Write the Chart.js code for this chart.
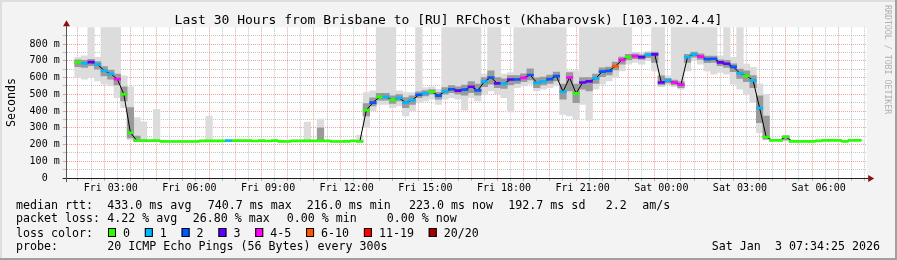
<!DOCTYPE html>
<html>
<head>
<meta charset="utf-8">
<script src="https://cdn.jsdelivr.net/npm/chart.js@4.4.1/dist/chart.umd.min.js"></script>
<style>
  html, body { margin: 0; padding: 0; background: #f3f3f3; }
  canvas { display: block; }
</style>
</head>
<body>
<canvas id="chart" width="897" height="260"></canvas>
<script>
// samples every 15 minutes, hours counted from Fri 00:00 (first one 01:45)
const firstSample = 1.75;
const sampleStep = 0.25;

// median rtt in ms
const median = [
  690, 684, 692, 678, 640, 622, 590, 500,
  270, 223, 223, 223, 223, 219, 218, 218,
  218, 218, 218, 222, 222, 222, 222, 223,
  223, 223, 223, 221, 223, 221, 223, 219,
  218, 222, 222, 222, 222, 222, 222, 218,
  218, 219, 222, 218, 405, 450, 484, 484,
  466, 478, 450, 465, 497, 505, 515, 492,
  517, 530, 522, 528, 545, 523, 575, 600,
  565, 563, 588, 588, 598, 615, 568, 577,
  590, 608, 515, 600, 505, 570, 577, 595,
  635, 640, 668, 705, 722, 728, 722, 735,
  738, 570, 583, 570, 557, 722, 738, 725,
  710, 712, 690, 682, 663, 625, 610, 583,
  418, 245, 225, 225, 245, 219, 219, 219,
  219, 222, 225, 225, 225, 219, 225, 225
];

// index into lossLabels / lossColors
const loss = [
  0, 1, 3, 1, 1, 1, 4, 0,
  0, 0, 0, 0, 0, 0, 0, 0,
  0, 0, 0, 0, 0, 0, 0, 1,
  0, 0, 0, 0, 0, 0, 0, 0,
  0, 0, 0, 0, 0, 0, 0, 0,
  0, 0, 0, 0, 0, 2, 0, 1,
  0, 1, 1, 1, 2, 1, 0, 2,
  1, 2, 3, 2, 3, 2, 1, 2,
  3, 1, 3, 2, 4, 2, 1, 1,
  2, 2, 1, 4, 0, 3, 3, 1,
  2, 2, 5, 4, 0, 4, 3, 1,
  3, 3, 1, 4, 4, 1, 1, 4,
  2, 2, 3, 3, 2, 1, 0, 1,
  1, 0, 0, 0, 0, 0, 0, 0,
  0, 0, 0, 0, 0, 0, 0, 0
];

// smoke: full spread of the 20 pings (900 = off the top)
const smokeLo = [
  600, 590, 600, 580, 560, 550, 480, 420,
  228, 218, 218, 219, 219, 216, 215, 215,
  215, 215, 215, 219, 219, 219, 219, 220,
  220, 220, 220, 218, 220, 218, 220, 216,
  215, 219, 219, 219, 219, 219, 219, 215,
  215, 216, 219, 215, 300, 400, 440, 440,
  420, 430, 370, 400, 450, 460, 470, 440,
  470, 480, 470, 405, 480, 460, 500, 520,
  500, 480, 395, 540, 550, 560, 520, 530,
  540, 550, 380, 370, 350, 440, 345, 530,
  560, 580, 600, 640, 680, 690, 680, 700,
  640, 545, 555, 545, 530, 640, 700, 680,
  640, 620, 630, 620, 560, 530, 500, 450,
  270, 228, 222, 222, 222, 216, 216, 216,
  216, 219, 222, 222, 222, 216, 222, 222
];
const smokeHi = [
  720, 730, 900, 720, 900, 900, 900, 610,
  545, 360, 336, 226, 410, 222, 221, 221,
  221, 221, 221, 225, 368, 225, 225, 226,
  226, 226, 226, 224, 226, 224, 226, 222,
  221, 225, 225, 334, 225, 352, 225, 221,
  221, 222, 225, 255, 510, 520, 900, 900,
  900, 520, 510, 510, 900, 540, 545, 530,
  900, 900, 900, 900, 900, 900, 620, 900,
  900, 620, 630, 900, 900, 900, 900, 900,
  900, 900, 900, 640, 640, 900, 900, 900,
  900, 900, 900, 900, 900, 750, 745, 755,
  900, 900, 610, 900, 900, 900, 900, 900,
  900, 900, 730, 900, 720, 900, 680, 660,
  560, 500, 228, 228, 255, 222, 222, 222,
  222, 225, 228, 228, 228, 222, 228, 228
];
// dense middle of the smoke
const coreLo = [
  665, 660, 670, 650, 610, 590, 555, 460,
  240, 220, 220, 221, 221, 218, 217, 217,
  217, 217, 217, 221, 221, 221, 221, 222,
  222, 222, 222, 220, 222, 220, 222, 218,
  217, 221, 221, 221, 221, 221, 221, 217,
  217, 218, 221, 217, 370, 430, 465, 465,
  445, 460, 420, 440, 480, 490, 500, 470,
  500, 510, 500, 495, 510, 495, 545, 560,
  540, 535, 555, 565, 575, 585, 540, 555,
  565, 580, 470, 520, 450, 530, 520, 565,
  605, 615, 645, 680, 705, 712, 708, 718,
  690, 555, 568, 555, 540, 690, 722, 708,
  688, 690, 670, 660, 635, 595, 575, 540,
  330, 232, 224, 224, 228, 218, 218, 218,
  218, 221, 224, 224, 224, 218, 224, 224
];
const coreHi = [
  705, 702, 708, 695, 665, 645, 620, 545,
  420, 250, 226, 225, 225, 221, 220, 220,
  220, 220, 220, 224, 224, 224, 224, 225,
  225, 225, 225, 223, 225, 223, 225, 221,
  220, 224, 224, 224, 224, 300, 224, 220,
  220, 221, 224, 221, 445, 478, 505, 505,
  490, 498, 480, 490, 515, 522, 528, 512,
  540, 552, 545, 555, 575, 560, 600, 640,
  600, 592, 612, 612, 622, 652, 598, 602,
  615, 632, 560, 630, 560, 600, 600, 620,
  658, 662, 692, 722, 738, 742, 736, 748,
  752, 610, 595, 585, 575, 738, 752, 742,
  728, 728, 706, 702, 682, 650, 640, 612,
  490, 370, 226, 226, 252, 220, 220, 220,
  220, 223, 226, 226, 226, 220, 226, 226
];

const lossLabels = ['0', '1', '2', '3', '4-5', '6-10', '11-19', '20/20'];
const lossColors = ['#26ff00', '#00b8ff', '#0059ff', '#5e00ff', '#ff00ff', '#ff5500', '#ff0000', '#a00000'];

const labelHours = [3, 6, 9, 12, 15, 18, 21, 24, 27, 30];
const timeLabels = ['Fri 03:00', 'Fri 06:00', 'Fri 09:00', 'Fri 12:00', 'Fri 15:00',
                    'Fri 18:00', 'Fri 21:00', 'Sat 00:00', 'Sat 03:00', 'Sat 06:00'];
const yTickLabels = ['0  ', '100 m', '200 m', '300 m', '400 m', '500 m', '600 m', '700 m', '800 m'];

const title = 'Last 30 Hours from Brisbane to [RU] RFChost (Khabarovsk) [103.102.4.4]';
const legendRows = [
  { y: 208.5, items: [['median rtt:', 16], ['433.0 ms avg', 107.3], ['740.7 ms max', 207.7],
      ['216.0 ms min', 306.7], ['223.0 ms now', 409], ['192.7 ms sd', 508.3], ['2.2', 605.7], ['am/s', 642.3]] },
  { y: 222.3, items: [['packet loss:', 16], ['4.22 % avg', 107.3], ['26.80 % max', 192.7],
      ['0.00 % min', 286.7], ['0.00 % now', 386.7]] },
  { y: 236.5, items: [['loss color:', 16]] },
  { y: 250, items: [['probe:', 16], ['20 ICMP Echo Pings (56 Bytes) every 300s', 107.3]] }
];
const stamp = 'Sat Jan  3 07:34:25 2026';

const mono = '"DejaVu Sans Mono", monospace';
const majorGrid = 'rgba(235, 85, 85, 0.55)';
const minorGrid = 'rgba(140, 140, 140, 0.5)';
const markHalf = 6;

const hours = median.map((_, i) => firstSample + i * sampleStep);

const rrdFrame = {
  id: 'rrdFrame',
  beforeDraw(chart) {
    const { ctx, width, height, chartArea: a } = chart;
    ctx.save();
    ctx.fillStyle = '#f3f3f3';
    ctx.fillRect(0, 0, width, height);
    ctx.fillStyle = '#dedede';
    ctx.fillRect(0, 0, width, 2);
    ctx.fillRect(0, 0, 2, height);
    ctx.fillStyle = '#a0a0a0';
    ctx.fillRect(0, height - 2, width, 2);
    ctx.fillRect(width - 2, 0, 2, height);
    ctx.fillStyle = '#ffffff';
    ctx.fillRect(a.left, a.top, a.right - a.left, a.bottom - a.top);
    ctx.restore();
  },
  afterDraw(chart) {
    const { ctx, width, chartArea: a } = chart;
    ctx.save();

    // axes with arrows
    const ax = Math.floor(a.left) + 0.5;
    const ay = Math.round(a.bottom) + 0.5;
    ctx.lineWidth = 1;
    ctx.strokeStyle = '#202020';
    ctx.beginPath();
    ctx.moveTo(a.left - 4, ay);
    ctx.lineTo(a.right + 2, ay);
    ctx.stroke();
    ctx.strokeStyle = '#555';
    ctx.beginPath();
    ctx.moveTo(ax, a.bottom + 4);
    ctx.lineTo(ax, a.top - 2);
    ctx.stroke();
    ctx.fillStyle = '#8b1010';
    ctx.beginPath();
    ctx.moveTo(a.right + 1.5, ay - 3.5);
    ctx.lineTo(a.right + 7.5, ay);
    ctx.lineTo(a.right + 1.5, ay + 3.5);
    ctx.fill();
    ctx.beginPath();
    ctx.moveTo(ax - 3.5, a.top - 1);
    ctx.lineTo(ax, a.top - 7);
    ctx.lineTo(ax + 3.5, a.top - 1);
    ctx.fill();

    // title
    ctx.fillStyle = '#000';
    ctx.font = '13px ' + mono;
    ctx.textAlign = 'center';
    ctx.textBaseline = 'alphabetic';
    ctx.fillText(title, width / 2, 24);

    // vertical axis title
    ctx.font = '11.65px ' + mono;
    ctx.save();
    ctx.translate(14.5, 102.5);
    ctx.rotate(-Math.PI / 2);
    ctx.fillText('Seconds', 0, 0);
    ctx.restore();

    // legend
    ctx.textAlign = 'left';
    legendRows.forEach(row => {
      row.items.forEach(([text, x]) => ctx.fillText(text, x, row.y));
    });
    const boxRow = legendRows[2];
    let bx = 108;
    lossLabels.forEach((lab, i) => {
      ctx.fillStyle = lossColors[i];
      ctx.fillRect(bx, boxRow.y - 8.5, 8, 9);
      ctx.strokeStyle = '#000';
      ctx.strokeRect(bx + 0.5, boxRow.y - 8, 7, 8);
      ctx.fillStyle = '#000';
      ctx.fillText(lab, bx + 15, boxRow.y);
      bx += 15 + ctx.measureText(lab).width + 14.8;
    });
    ctx.textAlign = 'right';
    ctx.fillText(stamp, 880, 250);

    // rrdtool credit
    ctx.fillStyle = '#b0b0b0';
    ctx.font = '8.25px ' + mono;
    ctx.textAlign = 'left';
    ctx.translate(885, 5);
    ctx.rotate(Math.PI / 2);
    ctx.fillText('RRDTOOL / TOBI OETIKER', 0, 0);
    ctx.restore();
  }
};

const barCommon = {
  type: 'bar',
  barPercentage: 1,
  categoryPercentage: 1,
  grouped: false,
  borderWidth: 0
};

new Chart(document.getElementById('chart'), {
  type: 'bar',
  data: {
    datasets: [
      Object.assign({}, barCommon, {
        label: 'smoke',
        data: hours.map((x, i) => ({ x, y: [smokeLo[i], smokeHi[i]] })),
        backgroundColor: '#dcdcdc',
        order: 5
      }),
      Object.assign({}, barCommon, {
        label: 'smoke core',
        data: hours.map((x, i) => ({ x, y: [coreLo[i], coreHi[i]] })),
        backgroundColor: '#9a9a9a',
        order: 4
      }),
      {
        type: 'line',
        label: 'median',
        data: hours.map((x, i) => ({ x, y: median[i] })),
        borderColor: '#000',
        borderWidth: 1,
        pointRadius: 0,
        tension: 0,
        order: 3
      },
      Object.assign({}, barCommon, {
        label: 'loss',
        data: hours.map((x, i) => ({ x, y: [median[i] - markHalf, median[i] + markHalf] })),
        backgroundColor: loss.map(l => lossColors[l]),
        order: 1
      })
    ]
  },
  options: {
    responsive: false,
    animation: false,
    devicePixelRatio: 1,
    events: [],
    layout: { padding: { left: 0, right: 30.3, top: 27.25, bottom: 0 } },
    plugins: { legend: { display: false }, tooltip: { enabled: false }, title: { display: false } },
    scales: {
      x: {
        type: 'linear',
        min: 1.5736,
        max: 31.58,
        z: 1,
        afterFit: s => { s.height = 82; },
        border: { display: false, dash: [1, 1] },
        grid: {
          color: c => (c.tick && Math.abs(c.tick.value % 1) < 1e-6) ? majorGrid : minorGrid,
          tickColor: c => (c.tick && Math.abs(c.tick.value % 1) < 1e-6) ? majorGrid : minorGrid,
          lineWidth: 1,
          tickLength: 3
        },
        ticks: {
          stepSize: 0.5,
          maxTicksLimit: 100,
          includeBounds: false,
          autoSkip: false,
          maxRotation: 0,
          minRotation: 0,
          padding: 1,
          color: '#000',
          font: { family: mono, size: 10 },
          callback: v => {
            const k = labelHours.findIndex(h => Math.abs(h - v) < 1e-6);
            return k >= 0 ? timeLabels[k] : '';
          }
        }
      },
      y: {
        type: 'linear',
        min: 0,
        max: 900,
        z: 1,
        afterFit: s => { s.width = 66.7; },
        border: { display: false, dash: [1, 1] },
        grid: {
          color: c => {
            const v = c.tick ? c.tick.value : 0;
            if (v === 0 || v === 900) return 'transparent';
            return v % 100 === 0 ? majorGrid : minorGrid;
          },
          tickColor: c => {
            const v = c.tick ? c.tick.value : 0;
            if (v === 900) return 'transparent';
            return v % 100 === 0 ? majorGrid : minorGrid;
          },
          lineWidth: 1,
          tickLength: 4
        },
        ticks: {
          stepSize: 50,
          autoSkip: false,
          padding: 3,
          color: '#000',
          font: { family: mono, size: 10 },
          callback: v => (v % 100 === 0 && v <= 800) ? yTickLabels[v / 100] : ''
        }
      }
    }
  },
  plugins: [rrdFrame]
});
</script>
</body>
</html>
